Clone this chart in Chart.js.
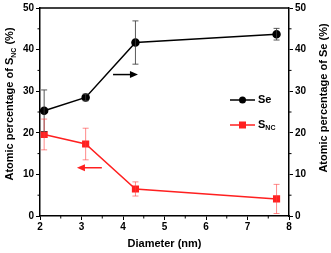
<!DOCTYPE html>
<html>
<head>
<meta charset="utf-8">
<script src="https://cdn.jsdelivr.net/npm/chart.js@4"></script>
<style>
  html, body { margin: 0; padding: 0; background: #fff; }
</style>
</head>
<body>
<canvas id="chart" width="331" height="253"></canvas>
<script>
const diameter = [2.1, 3.1, 4.3, 7.7];
const seValues = [25.3, 28.5, 41.7, 43.7];
const seErrors = [5.0, 0.8, 5.2, 1.4];
const sncValues = [19.6, 17.3, 6.5, 4.1];
const sncErrors = [3.7, 3.8, 1.7, 3.5];
const xTicks = [2, 3, 4, 5, 6, 7, 8];
const yTicks = [0, 10, 20, 30, 40, 50];
// arrows: [xFrom, xTo, y] in data units
const seArrow = [3.76, 4.36, 34.0];
const sncArrow = [3.49, 2.89, 11.6];

const FONT = '"Liberation Sans", Arial, sans-serif';
const RED = '#ff2020';

function toPoints(xs, ys) {
    return xs.map((x, i) => ({ x: x, y: ys[i] }));
}

// draw text made of pieces (for the NC subscript)
function richText(ctx, parts, x, y, align) {
    let w = 0;
    parts.forEach(p => {
        ctx.font = 'bold ' + p.size + 'px ' + FONT;
        p.w = ctx.measureText(p.t).width;
        w += p.w;
    });
    let cx = align === 'center' ? x - w / 2 : x;
    parts.forEach(p => {
        ctx.font = 'bold ' + p.size + 'px ' + FONT;
        ctx.fillText(p.t, cx, y + (p.dy || 0));
        cx += p.w;
    });
}

function arrow(ctx, x1, x2, y, color) {
    const dir = x2 > x1 ? 1 : -1;
    ctx.strokeStyle = color;
    ctx.fillStyle = color;
    ctx.lineWidth = 1.5;
    ctx.beginPath();
    ctx.moveTo(x1, y);
    ctx.lineTo(x2 - dir * 6, y);
    ctx.stroke();
    ctx.beginPath();
    ctx.moveTo(x2, y);
    ctx.lineTo(x2 - dir * 8, y - 3.5);
    ctx.lineTo(x2 - dir * 8, y + 3.5);
    ctx.closePath();
    ctx.fill();
}

const extras = {
    id: 'extras',
    afterDatasetsDraw(chart) {
        const ctx = chart.ctx;
        const xs = chart.scales.x, yl = chart.scales.y, yr = chart.scales.y1;
        const area = chart.chartArea;
        ctx.save();

        // error bars
        const bars = [
            { vals: seValues, errs: seErrors, scale: yr, color: 'rgba(60,60,60,0.85)' },
            { vals: sncValues, errs: sncErrors, scale: yl, color: 'rgba(255,60,60,0.6)' }
        ];
        bars.forEach(b => {
            ctx.strokeStyle = b.color;
            ctx.lineWidth = 1;
            b.vals.forEach((v, i) => {
                const px = xs.getPixelForValue(diameter[i]);
                const top = b.scale.getPixelForValue(v + b.errs[i]);
                const bot = b.scale.getPixelForValue(v - b.errs[i]);
                ctx.beginPath();
                ctx.moveTo(px, top); ctx.lineTo(px, bot);
                ctx.moveTo(px - 3, top); ctx.lineTo(px + 3, top);
                ctx.moveTo(px - 3, bot); ctx.lineTo(px + 3, bot);
                ctx.stroke();
            });
        });

        // top frame line
        ctx.strokeStyle = '#000';
        ctx.lineWidth = 1.5;
        ctx.beginPath();
        ctx.moveTo(area.left, area.top);
        ctx.lineTo(area.right, area.top);
        ctx.stroke();

        // minor ticks
        ctx.lineWidth = 1;
        ctx.beginPath();
        for (let i = 0; i < xTicks.length - 1; i++) {
            const px = xs.getPixelForValue(xTicks[i] + 0.5);
            ctx.moveTo(px, area.bottom); ctx.lineTo(px, area.bottom + 2.5);
        }
        for (let i = 0; i < yTicks.length - 1; i++) {
            const py = yl.getPixelForValue(yTicks[i] + 5);
            ctx.moveTo(area.left, py); ctx.lineTo(area.left - 2.5, py);
            ctx.moveTo(area.right, py); ctx.lineTo(area.right + 2.5, py);
        }
        ctx.stroke();

        // arrows
        arrow(ctx, xs.getPixelForValue(seArrow[0]), xs.getPixelForValue(seArrow[1]),
            yr.getPixelForValue(seArrow[2]), '#000');
        arrow(ctx, xs.getPixelForValue(sncArrow[0]), xs.getPixelForValue(sncArrow[1]),
            yl.getPixelForValue(sncArrow[2]), RED);

        // legend
        const lx = area.left + 190, ly1 = 100, ly2 = 125;
        ctx.lineWidth = 1.5;
        ctx.strokeStyle = '#000';
        ctx.beginPath(); ctx.moveTo(lx, ly1); ctx.lineTo(lx + 25, ly1); ctx.stroke();
        ctx.fillStyle = '#000';
        ctx.beginPath(); ctx.arc(lx + 12.5, ly1, 3.5, 0, Math.PI * 2); ctx.fill();
        ctx.strokeStyle = RED;
        ctx.beginPath(); ctx.moveTo(lx, ly2); ctx.lineTo(lx + 25, ly2); ctx.stroke();
        ctx.fillStyle = RED;
        ctx.fillRect(lx + 9, ly2 - 3.5, 7, 7);
        ctx.fillStyle = '#000';
        ctx.textBaseline = 'middle';
        richText(ctx, [{ t: 'Se', size: 11 }], lx + 28, ly1, 'left');
        richText(ctx, [{ t: 'S', size: 11 }, { t: 'NC', size: 7, dy: 3 }], lx + 28, ly2, 'left');

        // axis titles
        ctx.textBaseline = 'alphabetic';
        richText(ctx, [{ t: 'Diameter (nm)', size: 11 }], (area.left + area.right) / 2, 247, 'center');
        ctx.save();
        ctx.translate(13, 104);
        ctx.rotate(-Math.PI / 2);
        richText(ctx, [{ t: 'Atomic percentage of S', size: 11 }, { t: 'NC', size: 7, dy: 3 },
            { t: ' (%)', size: 11 }], 0, 0, 'center');
        ctx.restore();
        ctx.save();
        ctx.translate(327, 98);
        ctx.rotate(-Math.PI / 2);
        richText(ctx, [{ t: 'Atomic percentage of Se (%)', size: 11 }], 0, 0, 'center');
        ctx.restore();

        ctx.restore();
    }
};

const tickFont = { family: FONT, size: 10, weight: 'bold' };
const axisGrid = { drawOnChartArea: false, drawTicks: true, tickLength: 4, color: '#000', lineWidth: 1 };
const axisBorder = { display: true, color: '#000', width: 1.5 };

new Chart(document.getElementById('chart'), {
    type: 'line',
    data: {
        datasets: [{
            label: 'Se',
            data: toPoints(diameter, seValues),
            yAxisID: 'y1',
            borderColor: '#000',
            backgroundColor: '#000',
            borderWidth: 1.5,
            pointStyle: 'circle',
            pointRadius: 3.5,
            pointHoverRadius: 3.5
        }, {
            label: 'SNC',
            data: toPoints(diameter, sncValues),
            yAxisID: 'y',
            borderColor: RED,
            backgroundColor: RED,
            borderWidth: 1.5,
            pointStyle: 'rect',
            pointRadius: 4,
            pointHoverRadius: 4
        }]
    },
    options: {
        responsive: false,
        animation: false,
        devicePixelRatio: 1,
        layout: { padding: { top: 5, right: 0, left: 0, bottom: 0 } },
        plugins: { legend: { display: false }, tooltip: { enabled: false } },
        scales: {
            x: {
                type: 'linear',
                min: 2, max: 8,
                afterBuildTicks: s => { s.ticks = xTicks.map(v => ({ value: v })); },
                afterFit: s => { s.height = 37; },
                ticks: { color: '#000', font: tickFont, padding: 1, maxRotation: 0 },
                grid: axisGrid,
                border: axisBorder
            },
            y: {
                position: 'left',
                min: 0, max: 50,
                afterBuildTicks: s => { s.ticks = yTicks.map(v => ({ value: v })); },
                afterFit: s => { s.width = 40; },
                ticks: { color: '#000', font: tickFont, padding: 2 },
                grid: axisGrid,
                border: axisBorder
            },
            y1: {
                position: 'right',
                min: 0, max: 50,
                afterBuildTicks: s => { s.ticks = yTicks.map(v => ({ value: v })); },
                afterFit: s => { s.width = 42; },
                ticks: { color: '#000', font: tickFont, padding: 2 },
                grid: axisGrid,
                border: axisBorder
            }
        }
    },
    plugins: [extras]
});
</script>
</body>
</html>
